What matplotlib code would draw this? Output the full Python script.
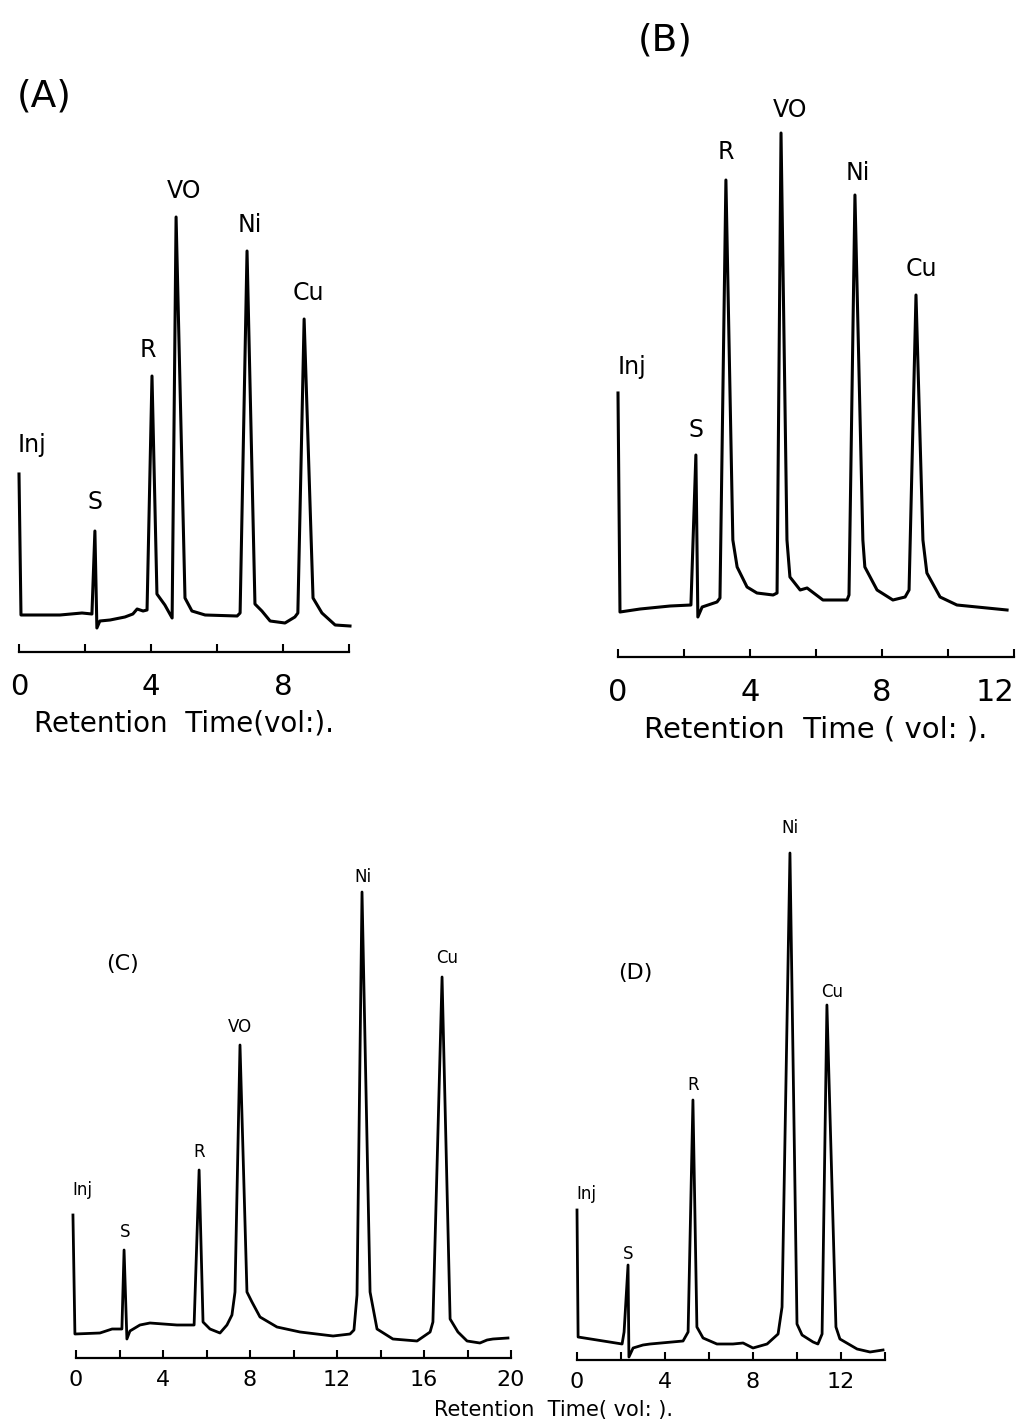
import numpy as np
import matplotlib
matplotlib.use("Agg")
import matplotlib.pyplot as plt
from matplotlib.ticker import FixedLocator

# retention time (vol.) and detector response (arb. units)

# (A)
a_time = [0.0, 0.06, 1.24, 1.91, 2.21, 2.30, 2.36, 2.45, 2.76, 3.21, 3.45, 3.58,
          3.76, 3.88, 4.03, 4.18, 4.42, 4.64, 4.76, 5.03, 5.24, 5.64, 6.61, 6.70,
          6.91, 7.15, 7.36, 7.61, 8.06, 8.36, 8.45, 8.64, 8.91, 9.18, 9.58, 10.03]
a_resp = [17.8, 3.7, 3.7, 3.9, 3.8, 12.1, 2.4, 3.1, 3.2, 3.5, 3.8, 4.3,
          4.1, 4.2, 27.6, 5.8, 4.7, 3.4, 43.5, 5.4, 4.1, 3.7, 3.6, 3.9,
          40.1, 4.8, 4.1, 3.1, 2.9, 3.5, 3.9, 33.3, 5.4, 3.9, 2.7, 2.6]
a_names = ["Inj", "S", "R", "VO", "Ni", "Cu"]
a_peak_t = [0.0, 2.30, 4.03, 4.76, 6.91, 8.64]

# (B)
b_time = [0.0, 0.06, 0.67, 1.58, 2.21, 2.36, 2.42, 2.55, 3.00, 3.09, 3.27, 3.48,
          3.61, 3.91, 4.21, 4.70, 4.82, 4.94, 5.12, 5.21, 5.52, 5.73, 6.21, 6.94,
          7.00, 7.18, 7.42, 7.48, 7.85, 8.33, 8.70, 8.82, 9.03, 9.24, 9.36, 9.76,
          10.27, 11.79]
b_resp = [26.4, 4.5, 4.8, 5.1, 5.2, 20.2, 4.0, 5.0, 5.5, 5.9, 47.7, 11.7,
          9.0, 7.0, 6.4, 6.2, 6.4, 52.4, 11.7, 8.0, 6.7, 6.9, 5.7, 5.7,
          6.2, 46.2, 11.7, 9.0, 6.7, 5.7, 6.0, 6.7, 36.2, 11.7, 8.4, 6.0,
          5.2, 4.7]
b_names = ["Inj", "S", "R", "VO", "Ni", "Cu"]
b_peak_t = [0.0, 2.36, 3.27, 4.94, 7.18, 9.03]

# (C)
c_time = [-0.14, -0.05, 1.10, 1.66, 2.11, 2.21, 2.34, 2.48, 2.94, 3.40, 4.64, 5.43,
          5.66, 5.84, 6.16, 6.62, 6.94, 7.17, 7.31, 7.54, 7.86, 8.09, 8.46, 9.24,
          10.30, 11.82, 12.60, 12.78, 12.92, 13.15, 13.52, 13.84, 14.57, 15.68, 16.28,
          16.41, 16.83, 17.20, 17.56, 17.98, 18.57, 18.90, 19.17, 19.86]
c_resp = [14.3, 2.4, 2.5, 2.9, 2.9, 10.8, 1.9, 2.7, 3.3, 3.5, 3.3, 3.3,
          18.8, 3.6, 2.9, 2.5, 3.3, 4.3, 6.6, 31.3, 6.6, 5.6, 4.1, 3.1,
          2.6, 2.2, 2.4, 2.8, 6.3, 46.6, 6.6, 2.9, 1.9, 1.7, 2.6,
          3.6, 38.1, 3.9, 2.6, 1.7, 1.5, 1.8, 1.9, 2.0]
c_names = ["Inj", "S", "R", "VO", "Ni", "Cu"]
c_peak_t = [-0.14, 2.21, 5.66, 7.54, 13.15, 16.83]

# (D)
d_time = [0.0, 0.05, 2.05, 2.14, 2.32, 2.36, 2.55, 3.00, 3.32, 4.82, 5.05, 5.27,
          5.45, 5.73, 6.36, 7.09, 7.55, 8.00, 8.64, 9.14, 9.32, 9.68, 10.00, 10.23,
          10.73, 10.95, 11.14, 11.36, 11.77, 11.95, 12.73, 13.32, 13.91]
d_resp = [15.0, 2.3, 1.6, 2.8, 9.5, 0.3, 1.2, 1.5, 1.6, 1.9, 2.8, 26.0,
          3.3, 2.2, 1.6, 1.6, 1.7, 1.2, 1.6, 2.6, 5.3, 50.7, 3.6, 2.5,
          1.8, 1.6, 2.6, 35.5, 3.3, 2.1, 1.1, 0.8, 1.0]
d_names = ["Inj", "S", "R", "Ni", "Cu"]
d_peak_t = [0.0, 2.32, 5.27, 9.68, 11.36]

W, H = 1024, 1425
fig = plt.figure(figsize=(W / 100, H / 100), dpi=100)
fig.patch.set_facecolor("white")


def panel(box, t, r, names, peak_t, offsets, xmax, ymax, major, minor,
          lab_size, tick_size, pad, lw):
    # box = (left px, right px, axis-line px) in figure pixels
    left, right, base = box
    ax = fig.add_axes([left / W, 1 - base / H, (right - left) / W, ymax * 10 / H])
    ax.plot(t, r, color="black", lw=lw, solid_joinstyle="round", clip_on=False)
    ax.set_xlim(0, xmax)
    ax.set_ylim(0, ymax)
    for s in ["left", "right", "top"]:
        ax.spines[s].set_visible(False)
    ax.spines["bottom"].set_linewidth(1.6)
    ax.set_yticks([])
    ax.xaxis.set_major_locator(FixedLocator(major))
    ax.xaxis.set_minor_locator(FixedLocator(minor))
    ax.tick_params(axis="x", which="both", direction="in", length=6, width=1.5,
                   labelsize=tick_size, pad=pad)
    ax.set_xticklabels([str(m) for m in major])
    ax.patch.set_alpha(0)
    t = np.array(t)
    for name, pt, off in zip(names, peak_t, offsets):
        i = np.argmin(np.abs(t - pt))
        ax.annotate(name, (t[i], r[i]), xytext=off, textcoords="offset points",
                    ha="center", va="center", fontsize=lab_size,
                    annotation_clip=False)
    return ax


ax_a = panel((19, 349, 652), a_time, a_resp, a_names, a_peak_t,
             [(9, 21), (0, 21), (-3, 19), (6, 18.5), (2, 19), (3, 19)],
             10, 50, [0, 4, 8], [2, 6, 10], 17, 21, 15, 2.2)
ax_a.set_xlabel("Retention  Time(vol:).", fontsize=20, labelpad=6)

ax_b = panel((618, 1014, 657), b_time, b_resp, b_names, b_peak_t,
             [(10, 18.5), (0, 18), (0, 20), (6.5, 16.5), (2, 16), (4, 19)],
             12, 60, [0, 4, 8, 12], [2, 6, 10], 17, 22, 15, 2.2)
ax_b.get_xticklabels()[-1].set_horizontalalignment("right")
ax_b.set_xlabel("Retention  Time ( vol: ).", fontsize=21, labelpad=6)

ax_c = panel((76, 511, 1358), c_time, c_resp, c_names, c_peak_t,
             [(6.5, 18), (0.5, 13), (0, 13), (0, 13), (0.5, 11), (3.5, 13.5)],
             20, 50, [0, 4, 8, 12, 16, 20], [2, 6, 10, 14, 18], 12, 16, 9, 2.0)

ax_d = panel((577, 885, 1360), d_time, d_resp, d_names, d_peak_t,
             [(7, 11.5), (0, 8), (0, 11), (0, 18), (4, 9.5)],
             14, 55, [0, 4, 8, 12], [2, 6, 10, 14], 12, 16, 9, 2.0)

fig.text(44 / W, 1 - 96 / H, "(A)", fontsize=27, ha="center", va="center")
fig.text(665 / W, 1 - 40 / H, "(B)", fontsize=27, ha="center", va="center")
fig.text(123 / W, 1 - 964 / H, "(C)", fontsize=16, ha="center", va="center")
fig.text(635 / W, 1 - 973 / H, "(D)", fontsize=16, ha="center", va="center")
fig.text(554 / W, 1 - 1410 / H, "Retention  Time( vol: ).", fontsize=15,
         ha="center", va="center")

fig.savefig("out.png", dpi=100, facecolor="white")
